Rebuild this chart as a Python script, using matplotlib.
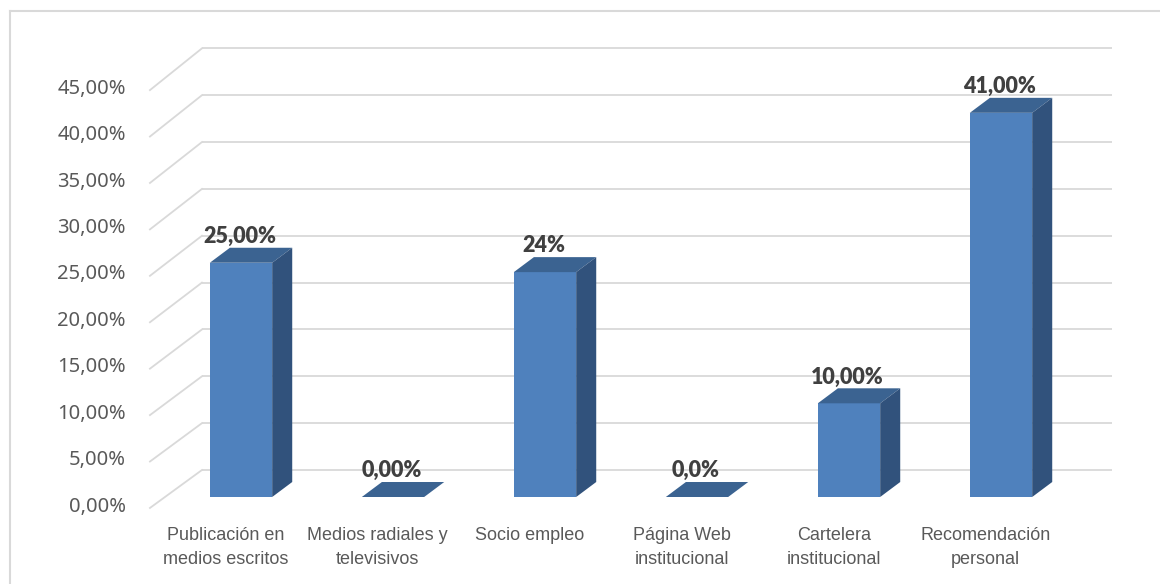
import matplotlib
matplotlib.use("Agg")
import matplotlib.pyplot as plt
from matplotlib.patches import Polygon
from matplotlib.lines import Line2D

# ---------------- data ----------------
categories = ["Publicación en\nmedios escritos", "Medios radiales y\ntelevisivos",
              "Socio empleo", "Página Web\ninstitucional", "Cartelera\ninstitucional",
              "Recomendación\npersonal"]
values = [25.0, 0.0, 24.0, 0.0, 10.0, 41.0]
value_labels = ["25,00%", "0,00%", "24%", "0,0%", "10,00%", "41,00%"]
y_ticks = [0, 5, 10, 15, 20, 25, 30, 35, 40, 45]
y_tick_labels = ["0,00%", "5,00%", "10,00%", "15,00%", "20,00%", "25,00%",
                 "30,00%", "35,00%", "40,00%", "45,00%"]

# ---------------- style ----------------
FRONT = "#4f81bd"
TOP = "#3b6391"
SIDE = "#31527c"
GRID = "#d9d9d9"
W = 0.41          # bar width (category units)
BDX, BDY = 0.132, 1.6    # bar depth offset
BACK_DY = 2.88           # back wall vertical offset
FRONT_DY = -1.17         # front-left edge vertical offset
X_FRONT_LEFT = -0.599
X_BACK_LEFT = -0.257
X_BACK_RIGHT = 5.73

fig = plt.figure(figsize=(11.6, 5.84), dpi=100)
ax = fig.add_axes([0, 0, 1, 1])
ax.set_xlim(-241 / 152, (1160 - 241) / 152)
ax.set_ylim((497 - 584) / 9.37, 497 / 9.37)
ax.axis("off")

# gridlines: back wall + left wall diagonals
for v, lab in zip(y_ticks, y_tick_labels):
    yb = v + BACK_DY
    yf = 0.991 * v + FRONT_DY
    ax.plot([X_BACK_LEFT, X_BACK_RIGHT], [yb, yb], color=GRID, lw=1.3, zorder=1,
            solid_capstyle="butt")
    ax.plot([X_FRONT_LEFT, X_BACK_LEFT], [yf, yb], color=GRID, lw=1.3, zorder=1)
    ax.text(-0.757, yf + 0.15, lab, ha="right", va="center", fontsize=14.5,
            family="Noto Sans", color="#595959")

# bars
xs = list(range(len(values)))
ax.bar(xs, values, width=W, color=FRONT, zorder=3, linewidth=0)
for x, v, lab in zip(xs, values, value_labels):
    l, r = x - W / 2, x + W / 2
    top = Polygon([(l, v), (r, v), (r + BDX, v + BDY), (l + BDX, v + BDY)],
                  closed=True, facecolor=TOP, edgecolor="none", zorder=3)
    ax.add_patch(top)
    if v > 0:
        side = Polygon([(r, 0), (r + BDX, BDY), (r + BDX, v + BDY), (r, v)],
                       closed=True, facecolor=SIDE, edgecolor="none", zorder=3)
        ax.add_patch(side)
    ax.text(x - 0.01, v + BDY + 1.2, lab, ha="center", va="center", fontsize=15.5,
            family="Lato", fontweight="heavy", color="#404040", zorder=4)

# category labels
for x, c in zip(xs, categories):
    ax.text(x - 0.1, -3.2, c, ha="center", va="top", fontsize=13,
            family="Liberation Sans", color="#595959", linespacing=1.55)

# chart frame (left and top)
fig.add_artist(Line2D([9.5 / 1160, 9.5 / 1160], [0, 1 - 11 / 584],
                      transform=fig.transFigure, color=GRID, lw=1.5))
fig.add_artist(Line2D([9.5 / 1160, 1], [1 - 11 / 584, 1 - 11 / 584],
                      transform=fig.transFigure, color=GRID, lw=1.5))

fig.savefig("out.png", dpi=100)
